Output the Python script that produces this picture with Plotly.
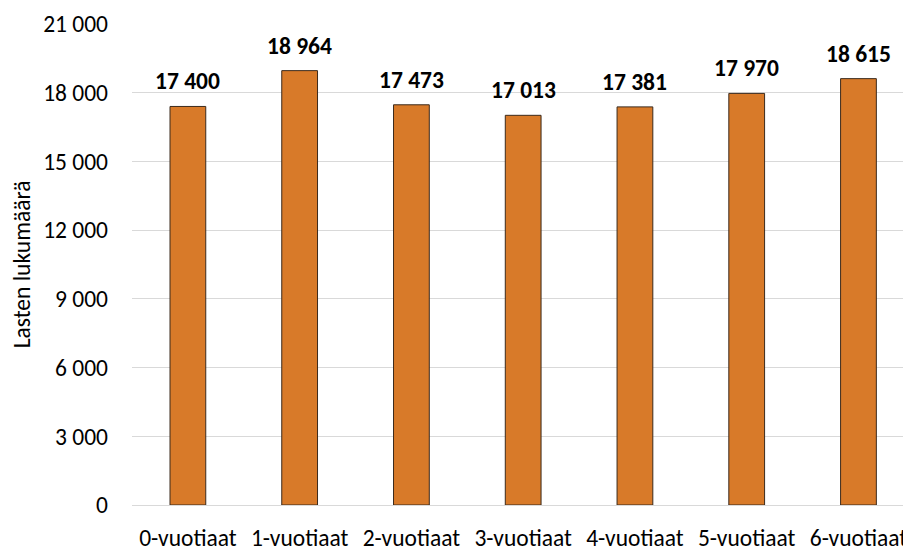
import plotly.graph_objects as go

categories = ["0-vuotiaat", "1-vuotiaat", "2-vuotiaat", "3-vuotiaat", "4-vuotiaat", "5-vuotiaat", "6-vuotiaat"]
values = [17400, 18964, 17473, 17013, 17381, 17970, 18615]
y_ticks = [0, 3000, 6000, 9000, 12000, 15000, 18000, 21000]
y_title = "Lasten lukumäärä"

FONT = "Carlito, Lato, sans-serif"
FS = 23.5

def fmt(v):
    return f"{v:,}".replace(",", " ")

fig = go.Figure()
fig.add_trace(go.Bar(
    x=list(range(len(categories))),
    y=values,
    width=0.32,
    marker=dict(color="#D87A29", line=dict(color="#3B2A1C", width=1)),
    hoverinfo="skip",
))

for i, v in enumerate(values):
    fig.add_annotation(x=i, y=v, text=f"<b>{fmt(v)}</b>", showarrow=False,
                       yanchor="bottom", yshift=9,
                       font=dict(family=FONT, size=FS, color="#000000"))

fig.update_layout(
    width=903, height=544,
    margin=dict(l=124, r=0, t=16, b=42),
    plot_bgcolor="white", paper_bgcolor="white",
    showlegend=False,
    font=dict(family=FONT, size=FS, color="#000000"),
    xaxis=dict(
        tickmode="array",
        tickvals=list(range(len(categories))),
        ticktext=categories,
        range=[-0.5, 6.47],
        showgrid=False, zeroline=False, showline=False,
        ticks="", ticklabelstandoff=16,
        tickfont=dict(family=FONT, size=FS),
    ),
    yaxis=dict(
        range=[0, 21000],
        tickvals=y_ticks,
        ticktext=[fmt(t) for t in y_ticks],
        showgrid=True, gridcolor="#D9D9D9", gridwidth=1.3,
        zeroline=True, zerolinecolor="#D9D9D9", zerolinewidth=1.3,
        showline=False, ticks="", ticklabelstandoff=23,
        tickfont=dict(family=FONT, size=FS),
        title=dict(text=y_title, font=dict(family=FONT, size=FS), standoff=12),
    ),
)

fig.write_html("out.html")
